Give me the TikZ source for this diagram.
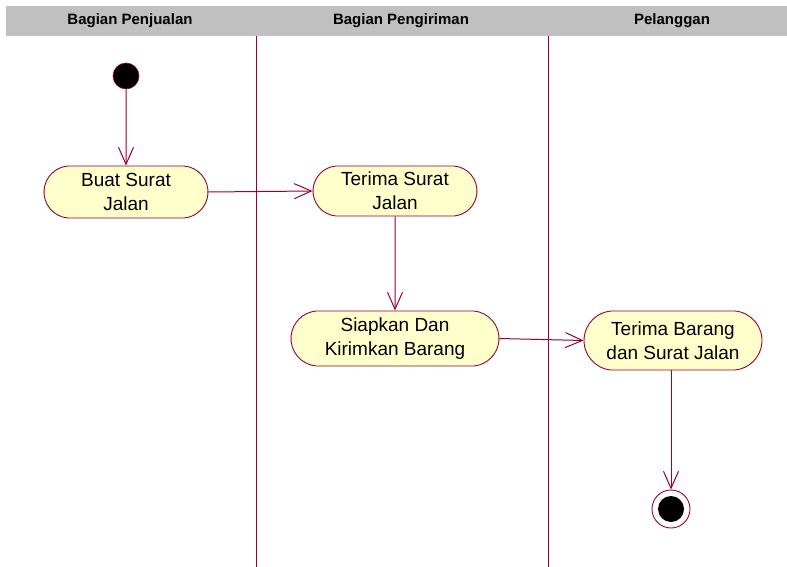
\documentclass[tikz,border=0pt]{standalone}
\usepackage{fontspec}
\setmainfont{Liberation Sans}
\usetikzlibrary{shapes.misc,arrows.meta}
\definecolor{crim}{HTML}{990033}
\definecolor{actfill}{HTML}{FFFFCC}
\definecolor{hdr}{HTML}{C0C0C0}
\tikzset{
  act/.style={rounded rectangle, rounded rectangle arc length=170, draw=crim, fill=actfill, line width=0.9pt, inner sep=0pt, align=center, font=\fontsize{19}{24}\selectfont},
  flow/.style={draw=crim, line width=1pt, -{Straight Barb[length=17pt,width=15pt,line width=1pt]}},
  lane/.style={draw=crim, line width=1pt},
  hdrtext/.style={font=\fontsize{15}{17}\selectfont\bfseries, inner sep=0pt}
}
\begin{document}
\begin{tikzpicture}[x=1pt,y=-1pt]
\useasboundingbox (0,0) rectangle (787,567);
\fill[white] (0,0) rectangle (787,567);
\fill[hdr] (6,6) rectangle (787,36);
\node[hdrtext] (h1) at (130,21) {Bagian Penjualan};
\node[hdrtext] (h2) at (401,21) {Bagian Pengiriman};
\node[hdrtext] (h3) at (672,21) {Pelanggan};
\coordinate (l1t) at (256,36); \coordinate (l1b) at (256,567);
\coordinate (l2t) at (548,36); \coordinate (l2b) at (548,567);
\draw[lane] (l1t) -- (l1b);
\draw[lane] (l2t) -- (l2b);
\node[circle, fill=black, draw=crim, line width=0.6pt, minimum size=26pt, inner sep=0pt] (start) at (126,76) {};
\node[act, minimum width=164pt, minimum height=52pt] (buat) at (126,192) {Buat Surat\\Jalan};
\node[act, minimum width=164pt, minimum height=50pt] (terima) at (395,191) {Terima Surat\\Jalan};
\node[act, minimum width=208pt, minimum height=55pt] (siapkan) at (395,338.5) {Siapkan Dan\\Kirimkan Barang};
\node[act, minimum width=178pt, minimum height=59pt] (barang) at (673,340.5) {Terima Barang\\dan Surat Jalan};
\node[circle, fill=white, draw=crim, line width=0.9pt, minimum size=38pt, inner sep=0pt] (end) at (671,509) {};
\node[circle, fill=black, minimum size=26pt, inner sep=0pt] (endin) at (end) {};
\draw[flow] (start) -- (buat);
\draw[flow] (buat.east) -- (terima.west);
\draw[flow] (terima) -- (siapkan);
\draw[flow] (siapkan.east) -- (barang.west);
\draw[flow] (barang.south -| end) -- (end);
\end{tikzpicture}
\end{document}
